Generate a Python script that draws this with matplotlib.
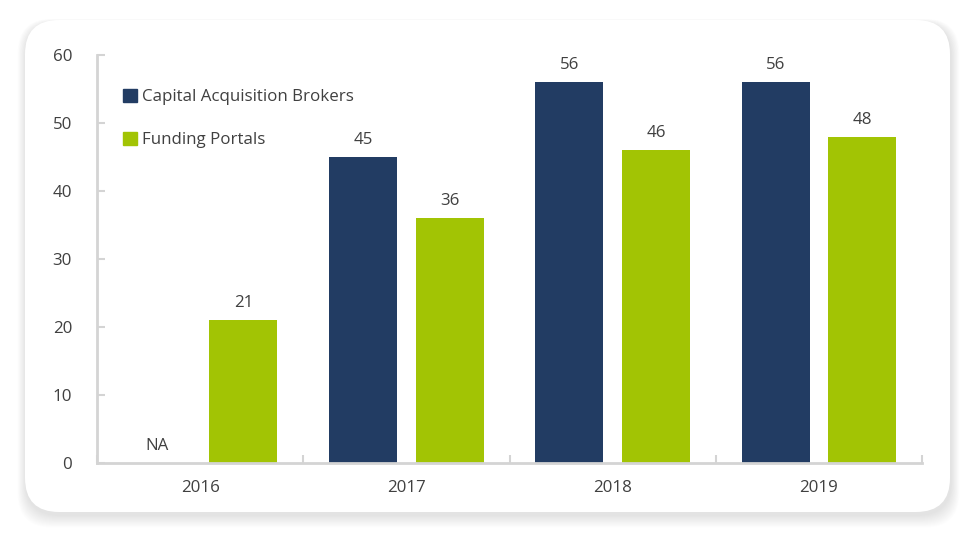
import numpy as np
import matplotlib
matplotlib.use("Agg")
import matplotlib.pyplot as plt
from matplotlib.patches import FancyBboxPatch, Patch

plt.rcParams["font.family"] = ["Open Sans", "DejaVu Sans"]

years = ["2016", "2017", "2018", "2019"]
brokers = [np.nan, 45, 56, 56]
portals = [21, 36, 46, 48]
NAVY = "#223c63"
GREEN = "#a2c404"
TXT = "#404040"
AXC = "#d4d4d4"
FS = 12.2

fig = plt.figure(figsize=(9.75, 5.41), dpi=100)
fig.patch.set_facecolor("white")

# card with soft shadow
W, H = 975, 541
x0, y0, x1, y1 = 25, 20, 950, 512
for i in range(14, 0, -1):
    sh = FancyBboxPatch(((x0 - i * 0.6 + 1) / W, 1 - (y1 + i * 0.9 + 3) / H),
                        (x1 - x0 + i * 1.2) / W, (y1 - y0 + i * 1.2) / H,
                        boxstyle="round,pad=0,rounding_size=0.035", transform=fig.transFigure,
                        fc="black", ec="none", alpha=0.008, zorder=0, mutation_aspect=W / H)
    fig.patches.append(sh)
card = FancyBboxPatch((x0 / W, 1 - y1 / H), (x1 - x0) / W, (y1 - y0) / H,
                      boxstyle="round,pad=0,rounding_size=0.035", transform=fig.transFigure,
                      fc="white", ec="none", zorder=1, mutation_aspect=W / H)
fig.patches.append(card)

ax = fig.add_axes([97 / W, 1 - 463 / H, (922 - 97) / W, (463 - 55) / H])
ax.set_facecolor("none")
ax.set_zorder(2)

x = np.arange(len(years))
bw = 0.33
off = 0.21
ax.bar(x - off, np.nan_to_num(brokers), bw, color=NAVY)
ax.bar(x + off, portals, bw, color=GREEN)

for xi, v in zip(x, brokers):
    lab = "NA" if np.isnan(v) else f"{int(v)}"
    ax.text(xi - off, (0 if np.isnan(v) else v) + 1.3, lab, ha="center", va="bottom",
            fontsize=FS, color=TXT)
for xi, v in zip(x, portals):
    ax.text(xi + off, v + 1.3, f"{v}", ha="center", va="bottom", fontsize=FS, color=TXT)

ax.set_xlim(-0.5, len(years) - 0.5)
ax.set_ylim(0, 60)
ax.set_yticks(range(0, 61, 10))
ax.set_xticks(x)
ax.set_xticklabels(years)
ax.set_xticks(np.arange(-0.5, len(years)), minor=True)
ax.tick_params(axis="x", which="major", length=0, pad=12, labelsize=FS, labelcolor=TXT)
ax.tick_params(axis="x", which="minor", direction="in", length=6, width=1.5, color=AXC)
ax.tick_params(axis="y", direction="in", length=6, width=1.5, color=AXC, pad=18,
               labelsize=FS, labelcolor=TXT)
for s in ["top", "right"]:
    ax.spines[s].set_visible(False)
for s in ["left", "bottom"]:
    ax.spines[s].set_color(AXC)
    ax.spines[s].set_linewidth(2)

handles = [Patch(color=NAVY, label="Capital Acquisition Brokers"),
           Patch(color=GREEN, label="Funding Portals")]
ax.legend(handles=handles, loc="upper left", bbox_to_anchor=(0.013, 0.955), frameon=False,
          handlelength=0.8, handleheight=0.8, handletextpad=0.35, labelspacing=1.6,
          fontsize=FS, labelcolor=TXT)

fig.savefig("out.png", dpi=100)
